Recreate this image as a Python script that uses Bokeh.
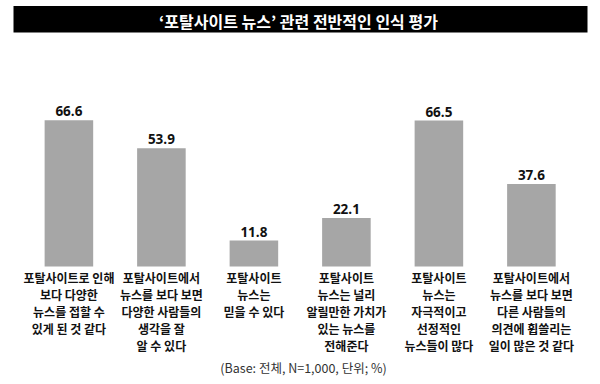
from bokeh.plotting import figure
from bokeh.models import Range1d, ColumnDataSource
from bokeh.core.properties import value
from bokeh.embed import file_html
from bokeh.resources import INLINE

title_text = "‘포탈사이트 뉴스’ 관련 전반적인 인식 평가"
categories = [
    "포탈사이트로 인해\n보다 다양한\n뉴스를 접할 수\n있게 된 것 같다",
    "포탈사이트에서\n뉴스를 보다 보면\n다양한 사람들의\n생각을 잘\n알 수 있다",
    "포탈사이트\n뉴스는\n믿을 수 있다",
    "포탈사이트\n뉴스는 널리\n알릴만한 가치가\n있는 뉴스를\n전해준다",
    "포탈사이트\n뉴스는\n자극적이고\n선정적인\n뉴스들이 많다",
    "포탈사이트에서\n뉴스를 보다 보면\n다른 사람들의\n의견에 휩쓸리는\n일이 많은 것 같다",
]
values = [66.6, 53.9, 11.8, 22.1, 66.5, 37.6]
value_labels = ["66.6", "53.9", "11.8", "22.1", "66.5", "37.6"]
footnote = "(Base: 전체, N=1,000, 단위; %)"

KR = "Noto Sans CJK KR"
W, H = 592, 376
scale = 2.195  # px per unit
bottom_px = 266  # image y of bar base
y0 = -(H - bottom_px) / scale
y1 = y0 + H / scale
unit = 92.5
x0 = -68.4 / unit
x1 = x0 + W / unit

p = figure(width=W, height=H, output_backend="svg", toolbar_location=None,
           x_range=Range1d(x0, x1), y_range=Range1d(y0, y1),
           min_border=0, min_border_left=0, min_border_right=0,
           min_border_top=0, min_border_bottom=0)
p.extra_x_ranges = {"px": Range1d(0, W)}
p.extra_y_ranges = {"px": Range1d(H, 0)}
p.xaxis.visible = False
p.yaxis.visible = False
p.grid.visible = False
p.outline_line_color = None
p.background_fill_color = "white"
p.border_fill_color = "white"

xs = list(range(len(categories)))
src = ColumnDataSource(dict(x=xs, top=values, cat=categories, lab=value_labels))

p.vbar(x="x", top="top", bottom=0, width=0.525, source=src,
       fill_color="#a6a6a6", line_color=None)

p.text(x="x", y="top", text="lab", source=src, text_align="center",
       text_baseline="alphabetic", y_offset=-9,
       text_font=value("Open Sans"), text_font_style="bold",
       text_font_size="13.5px", text_color="#111111")

p.text(x="x", y=0, text="cat", source=src, text_align="center",
       text_baseline="top", y_offset=2, text_line_height=1.0,
       text_font=value(KR), text_font_style="bold",
       text_font_size="12px", text_color="#111111")

# title bar
p.quad(left=[13], right=[587], top=[5.5], bottom=[32],
       x_range_name="px", y_range_name="px",
       fill_color="black", line_color=None)
p.text(x=[298], y=[20.5], text=[title_text], x_range_name="px", y_range_name="px",
       text_align="center", text_baseline="middle",
       text_font=value(KR), text_font_style="bold",
       text_font_size="16px", text_color="white")

p.text(x=[303], y=[366.5], text=[footnote], x_range_name="px", y_range_name="px",
       text_align="center", text_baseline="middle",
       text_font=value(KR), text_font_size="12.5px", text_color="#333333")

open("out.html", "w").write(file_html(p, INLINE))
